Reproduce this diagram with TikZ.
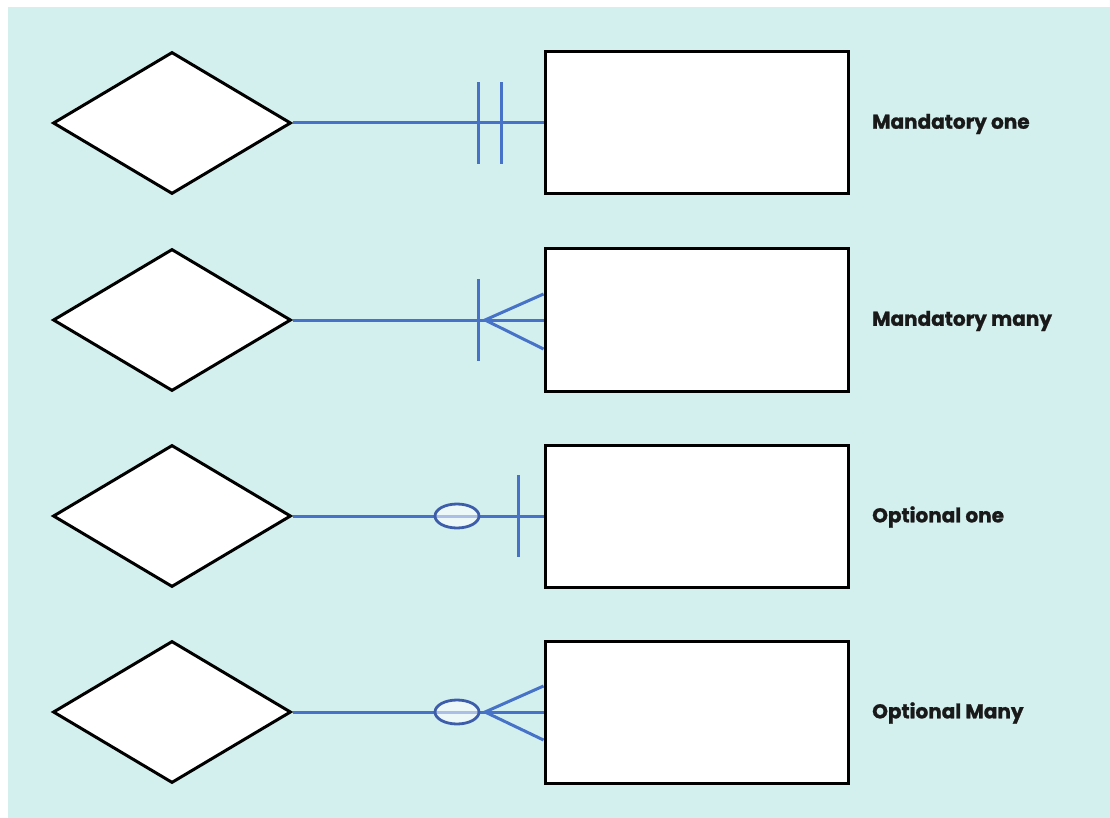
\documentclass[tikz,border=0pt]{standalone}
\usepackage{fontspec}
\setmainfont{Poppins}
\newfontfamily\lblfont[FakeBold=1.2]{Poppins Bold}
\usetikzlibrary{shapes.geometric}
\definecolor{bgc}{HTML}{D3F0EE}
\definecolor{lnc}{HTML}{4673C8}
\definecolor{elc}{HTML}{3D5DAA}
\tikzset{
  rel/.style={diamond, draw=black, line width=3pt, fill=white, aspect=1.676, inner sep=0pt, minimum width=238pt, minimum height=142pt},
  ent/.style={rectangle, draw=black, line width=3pt, fill=white, inner sep=0pt, minimum width=303pt, minimum height=142pt},
  conn/.style={draw=lnc, line width=3pt},
  optel/.style={draw=elc, line width=2.8pt, fill=white, fill opacity=0.55},
  lbl/.style={anchor=west, inner sep=0pt, font=\lblfont\fontsize{20}{22}\selectfont, text=black!90}
}
\begin{document}
\begin{tikzpicture}[x=1pt,y=-1pt]
\useasboundingbox (0,0) rectangle (1110,818);
\fill[white] (0,0) rectangle (1110,818);
\fill[bgc] (8,7) rectangle (1110,818);
\foreach \i/\y in {1/123,2/320,3/516,4/712}{
  \node[rel] (d\i) at (172,\y) {};
  \node[ent] (r\i) at (696.5,\y) {};
  \draw[conn] (d\i.east) -- (r\i.west);
}
% mandatory one
\coordinate (b1a) at (478,123);
\coordinate (b1b) at (501,123);
\draw[conn] ([yshift=-41pt]b1a) -- ([yshift=41pt]b1a);
\draw[conn] ([yshift=-41pt]b1b) -- ([yshift=41pt]b1b);
% mandatory many
\coordinate (b2) at (478,320);
\coordinate (f2) at (485,320);
\draw[conn] ([yshift=-41pt]b2) -- ([yshift=41pt]b2);
\draw[conn] ([yshift=-29pt]r2.west) -- (f2) -- ([yshift=26pt]r2.west);
% optional one
\coordinate (e3) at (457,516);
\coordinate (b3) at (518,516);
\draw[conn] ([yshift=-41pt]b3) -- ([yshift=41pt]b3);
\draw[optel] (e3) ellipse [x radius=22pt, y radius=12pt];
% optional many
\coordinate (e4) at (457,712);
\coordinate (f4) at (485,712);
\draw[conn] ([yshift=-28pt]r4.west) -- (f4) -- ([yshift=26pt]r4.west);
\draw[optel] (e4) ellipse [x radius=22pt, y radius=12pt];
% labels
\node[lbl] (l1) at (872,124) {Mandatory one};
\node[lbl] (l2) at (872,321) {Mandatory many};
\node[lbl] (l3) at (872,517) {Optional one};
\node[lbl] (l4) at (872,713) {Optional Many};
\end{tikzpicture}
\end{document}
